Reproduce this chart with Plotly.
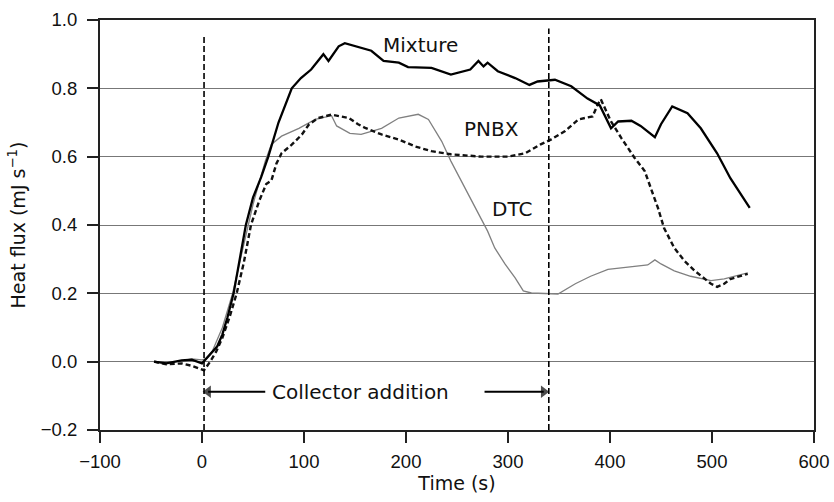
import plotly.graph_objects as go

# ---- data ----
mix_t = [-47, -35, -20, -10, 0, 5, 10, 15, 20, 25, 31, 37, 43, 50, 58, 65, 75, 88, 97, 107, 119, 124, 134, 140, 153,
         166, 178, 193, 202, 225, 244, 263, 271, 276, 280, 290, 307, 321, 329, 346, 362, 378, 390, 401, 408, 421,
         430, 444, 450, 461, 476, 489, 505, 518, 537]
mix_v = [0.0, -0.005, 0.004, 0.006, -0.005, 0.012, 0.03, 0.045, 0.08, 0.13, 0.2, 0.3, 0.4, 0.48, 0.54, 0.6, 0.7, 0.8,
         0.83, 0.855, 0.9, 0.88, 0.923, 0.932, 0.92, 0.91, 0.88, 0.875, 0.862, 0.86, 0.84, 0.855, 0.88, 0.864, 0.875,
         0.85, 0.83, 0.81, 0.82, 0.825, 0.806, 0.77, 0.75, 0.683, 0.703, 0.705, 0.69, 0.657, 0.695, 0.747, 0.727,
         0.683, 0.61, 0.537, 0.45]

pnbx_t = [-47, -35, -20, -10, 2, 8, 14, 20, 27, 34, 41, 48, 56, 63, 68, 73, 78, 88, 98, 105, 114, 127, 144, 153, 160,
          176, 193, 209, 225, 244, 274, 300, 317, 332, 342, 356, 369, 383, 388, 391, 401, 411, 424, 434, 447, 453,
          463, 473, 483, 499, 505, 512, 518, 535]
pnbx_v = [0.0, -0.008, -0.005, -0.012, -0.025, 0.0, 0.03, 0.07, 0.13, 0.2, 0.29, 0.4, 0.47, 0.52, 0.53, 0.58, 0.61,
          0.635, 0.665, 0.695, 0.713, 0.723, 0.713, 0.695, 0.684, 0.665, 0.65, 0.63, 0.616, 0.607, 0.6, 0.6, 0.61,
          0.636, 0.65, 0.675, 0.709, 0.718, 0.753, 0.768, 0.703, 0.655, 0.597, 0.558, 0.45, 0.391, 0.333, 0.295,
          0.266, 0.228, 0.219, 0.228, 0.242, 0.257]

dtc_t = [-47, -35, -20, -10, 0, 5, 10, 20, 30, 40, 50, 62, 68, 78, 95, 111, 127, 132, 145, 156, 176, 193, 212, 222,
         235, 244, 258, 271, 280, 287, 297, 307, 315, 323, 339, 349, 366, 381, 398, 420, 437, 444, 450, 463, 479,
         499, 512, 535]
dtc_v = [0.0, -0.003, 0.002, 0.008, 0.005, 0.01, 0.03, 0.1, 0.2, 0.33, 0.46, 0.587, 0.636, 0.66, 0.683, 0.709, 0.72,
         0.69, 0.668, 0.665, 0.683, 0.713, 0.724, 0.709, 0.645, 0.587, 0.508, 0.432, 0.382, 0.333, 0.286, 0.245,
         0.207, 0.201, 0.198, 0.198, 0.228, 0.25, 0.27, 0.277, 0.283, 0.298, 0.286, 0.266, 0.25, 0.237, 0.242, 0.26]

marker_t = [2, 340]          # collector addition start / end (s)
marker_top = [0.955, 0.975]

labels = ["Mixture", "PNBX", "DTC"]
label_t = [214, 284, 304]
label_v = [0.928, 0.68, 0.447]

arrow_y = -0.088
arrow_left = [62, 6]         # tail, head (s)
arrow_right = [277, 335]     # tail, head (s)
note_t = 155

x_ticks = [-100, 0, 100, 200, 300, 400, 500, 600]
y_ticks = [-0.2, 0.0, 0.2, 0.4, 0.6, 0.8, 1.0]

FONT = "DejaVu Sans, Liberation Sans, sans-serif"
TICKFONT = "Liberation Sans, Arial, sans-serif"

fig = go.Figure()
fig.add_trace(go.Scatter(x=dtc_t, y=dtc_v, mode="lines", line=dict(color="#808080", width=1.3),
                         showlegend=False, hoverinfo="skip"))
fig.add_trace(go.Scatter(x=pnbx_t, y=pnbx_v, mode="lines", line=dict(color="#111111", width=2.4, dash="5px,3px"),
                         showlegend=False, hoverinfo="skip"))
fig.add_trace(go.Scatter(x=mix_t, y=mix_v, mode="lines", line=dict(color="#000000", width=2.3),
                         showlegend=False, hoverinfo="skip"))

for t, top in zip(marker_t, marker_top):
    fig.add_trace(go.Scatter(x=[t, t], y=[-0.2, top], mode="lines",
                             line=dict(color="#000000", width=1.6, dash="6px,3px"),
                             showlegend=False, hoverinfo="skip"))

# collector-addition arrows (shaft + head marker)
for seg, sym in ((arrow_left, "triangle-left"), (arrow_right, "triangle-right")):
    fig.add_trace(go.Scatter(x=seg, y=[arrow_y, arrow_y], mode="lines+markers",
                             line=dict(color="#000", width=1.8),
                             marker=dict(symbol=["circle", sym], size=[0, 11], color="#000",
                                         line=dict(width=0)),
                             showlegend=False, hoverinfo="skip"))

for txt, t, v in zip(labels, label_t, label_v):
    fig.add_annotation(x=t, y=v, text=txt, showarrow=False, font=dict(family=FONT, size=20, color="#111"))

fig.add_annotation(x=note_t, y=arrow_y, text="Collector addition", showarrow=False,
                   font=dict(family=FONT, size=20, color="#111"))

fig.update_layout(
    width=834, height=502,
    margin=dict(l=100, r=20, t=20, b=72, autoexpand=False),
    paper_bgcolor="white", plot_bgcolor="white",
    font=dict(family=FONT, size=17, color="#111"),
    xaxis=dict(range=[-100, 600], tickvals=x_ticks, ticks="outside", ticklen=11, tickwidth=2, tickcolor="#222",
               showline=True, linecolor="#222", linewidth=2, mirror=True, showgrid=False, zeroline=False,
               ticklabelstandoff=3, automargin=False,
               title=dict(text="Time (s)", standoff=2, font=dict(size=19)),
               tickfont=dict(family=TICKFONT, size=18.5)),
    yaxis=dict(range=[-0.2, 1.0], tickvals=y_ticks, tickformat=".1f", ticks="outside", ticklen=11, tickwidth=2,
               tickcolor="#222", showline=True, linecolor="#222", linewidth=2, mirror=True,
               showgrid=True, gridcolor="#777", gridwidth=1.3, zeroline=False, ticklabelstandoff=6,
               automargin=False,
               title=dict(text="Heat flux (mJ s<sup>−1</sup>)", standoff=10, font=dict(size=19)),
               tickfont=dict(family=TICKFONT, size=18.5)),
)

fig.write_html("out.html", config={"displayModeBar": False},
               post_script="document.body.style.margin='0';document.body.style.overflow='hidden';")
